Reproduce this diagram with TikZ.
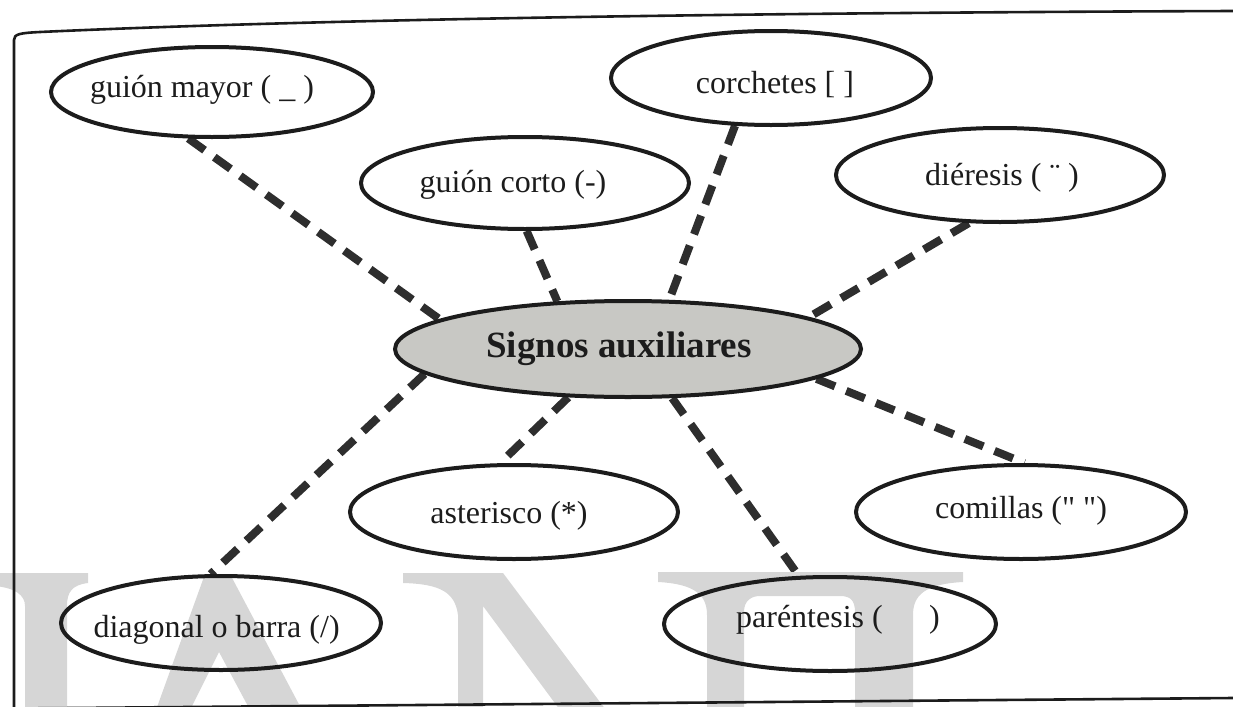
\documentclass[tikz,border=0pt]{standalone}
\usepackage{fontspec}
\setmainfont{Liberation Serif}
\newfontfamily\rawq{Liberation Serif}[Ligatures=TeXOff]
\usetikzlibrary{shapes.geometric,backgrounds}
\definecolor{ink}{HTML}{1C1C1C}
\definecolor{dashc}{HTML}{2E2E2E}
\definecolor{wm}{HTML}{D6D6D6}
\definecolor{hub}{HTML}{C8C8C4}
% \lbl{dx}{dy}{text}: label of no size, its baseline moved by dx and raised by dy from the node centre
\newcommand{\lbl}[3]{\raisebox{#2}[0pt][0pt]{\hbox to 0pt{\kern#1\hbox to 0pt{\hss#3\hss}\hss}}}
\begin{document}
\begin{tikzpicture}[x=0.5pt,y=-0.5pt,
  leaf/.style={ellipse, draw=ink, line width=2pt, inner sep=0pt, text=ink,
    font=\fontsize{16}{19}\selectfont},
  hubnode/.style={ellipse, draw=ink, line width=2pt, fill=hub, inner sep=0pt, text=ink,
    font=\fontsize{18.5}{22}\selectfont\bfseries, minimum width=233pt, minimum height=48pt},
  link/.style={draw=dashc, line width=4pt, dash pattern=on 10pt off 6pt},
  frameline/.style={draw=ink, line width=1.3pt},
  wmshape/.style={fill=wm, draw=none}
]
\useasboundingbox (0,0) rectangle (1233,707);
% watermark shapes (tops of large letters, cut off by the lower edge)
\begin{scope}
\clip (0,0) rectangle (1233,707);
\path[wmshape] (-5,573) -- (88,573) -- (88,583) .. controls (72,585) and (67,592) .. (67,606)
  -- (67,710) -- (25,710) -- (25,606) .. controls (25,595) and (15,588) .. (-5,586) -- cycle;
\path[wmshape] (205,574) -- (230,574) -- (302,710) -- (250,710) -- (219,652) -- (190,710)
  -- (156,710) -- cycle;
\path[wmshape] (403,573) -- (503,573) -- (606,710) -- (560,710) -- (483,606) -- (483,710)
  -- (458,710) -- (458,615) .. controls (455,592) and (440,584) .. (403,583) -- cycle;
\path[wmshape] (658,572) -- (963,572) -- (963,582) .. controls (925,584) and (913,595) .. (913,615)
  -- (913,710) -- (855,710) -- (855,612) .. controls (855,600) and (850,596) .. (840,596)
  -- (760,596) .. controls (752,596) and (744,600) .. (744,612) -- (744,710) -- (707,710)
  -- (707,615) .. controls (707,595) and (695,584) .. (658,582) -- cycle;
\end{scope}
% frame
\draw[frameline] (14,708) -- (14,40) .. controls (14,34) and (20,33) .. (40,32)
  .. controls (300,20) and (700,13) .. (1233,11);
\draw[frameline] (14,708.5) -- (1233,698);
% nodes
\node[hubnode] (hub) at (628,349) {\lbl{-4.5pt}{-4pt}{Signos auxiliares}};
\node[leaf, minimum width=161pt, minimum height=45pt] (gm) at (212,92) {\lbl{-5pt}{-2.5pt}{guión mayor ( \_ )}};
\node[leaf, minimum width=160pt, minimum height=47pt] (co) at (771,78) {\lbl{2pt}{-7.5pt}{corchetes [ ]}};
\node[leaf, minimum width=164pt, minimum height=46pt] (gc) at (525,183) {\lbl{-6pt}{-4.5pt}{guión corto (-)}};
\node[leaf, minimum width=164pt, minimum height=47pt] (di) at (1000,175) {\lbl{1pt}{-5pt}{diéresis ( ¨ )}};
\node[leaf, minimum width=164pt, minimum height=47pt] (as) at (514,512) {\lbl{-2.5pt}{-5.5pt}{asterisco (*)}};
\node[leaf, minimum width=165pt, minimum height=47pt] (cm) at (1021,512) {\lbl{0pt}{-3pt}{comillas ({\rawq"} {\rawq"})}};
\node[leaf, minimum width=160pt, minimum height=47pt] (dg) at (221,623) {\lbl{-2.2pt}{-7pt}{diagonal o barra (/)}};
\node[leaf, minimum width=166pt, minimum height=47pt] (pa) at (830,624) {\lbl{4pt}{-1.5pt}{paréntesis (\hspace{1.45em})}};
% connectors
\begin{scope}[on background layer]
\draw[link] (gm.243.7) -- (hub.171.75);
\draw[link] (co.233.5) -- (hub.50.2);
\draw[link] (gc.-88.8) -- (hub.146.1);
\draw[link] (di.237.9) -- (hub.10.2);
\draw[link] (hub.187.6) -- (dg.102);
\draw[link] (hub.219) -- (as.106.7);
\draw[link] (hub.312.1) -- (pa.123.9);
\draw[link] (hub.351.8) -- (cm.86.3);
\end{scope}
\end{tikzpicture}
\end{document}
